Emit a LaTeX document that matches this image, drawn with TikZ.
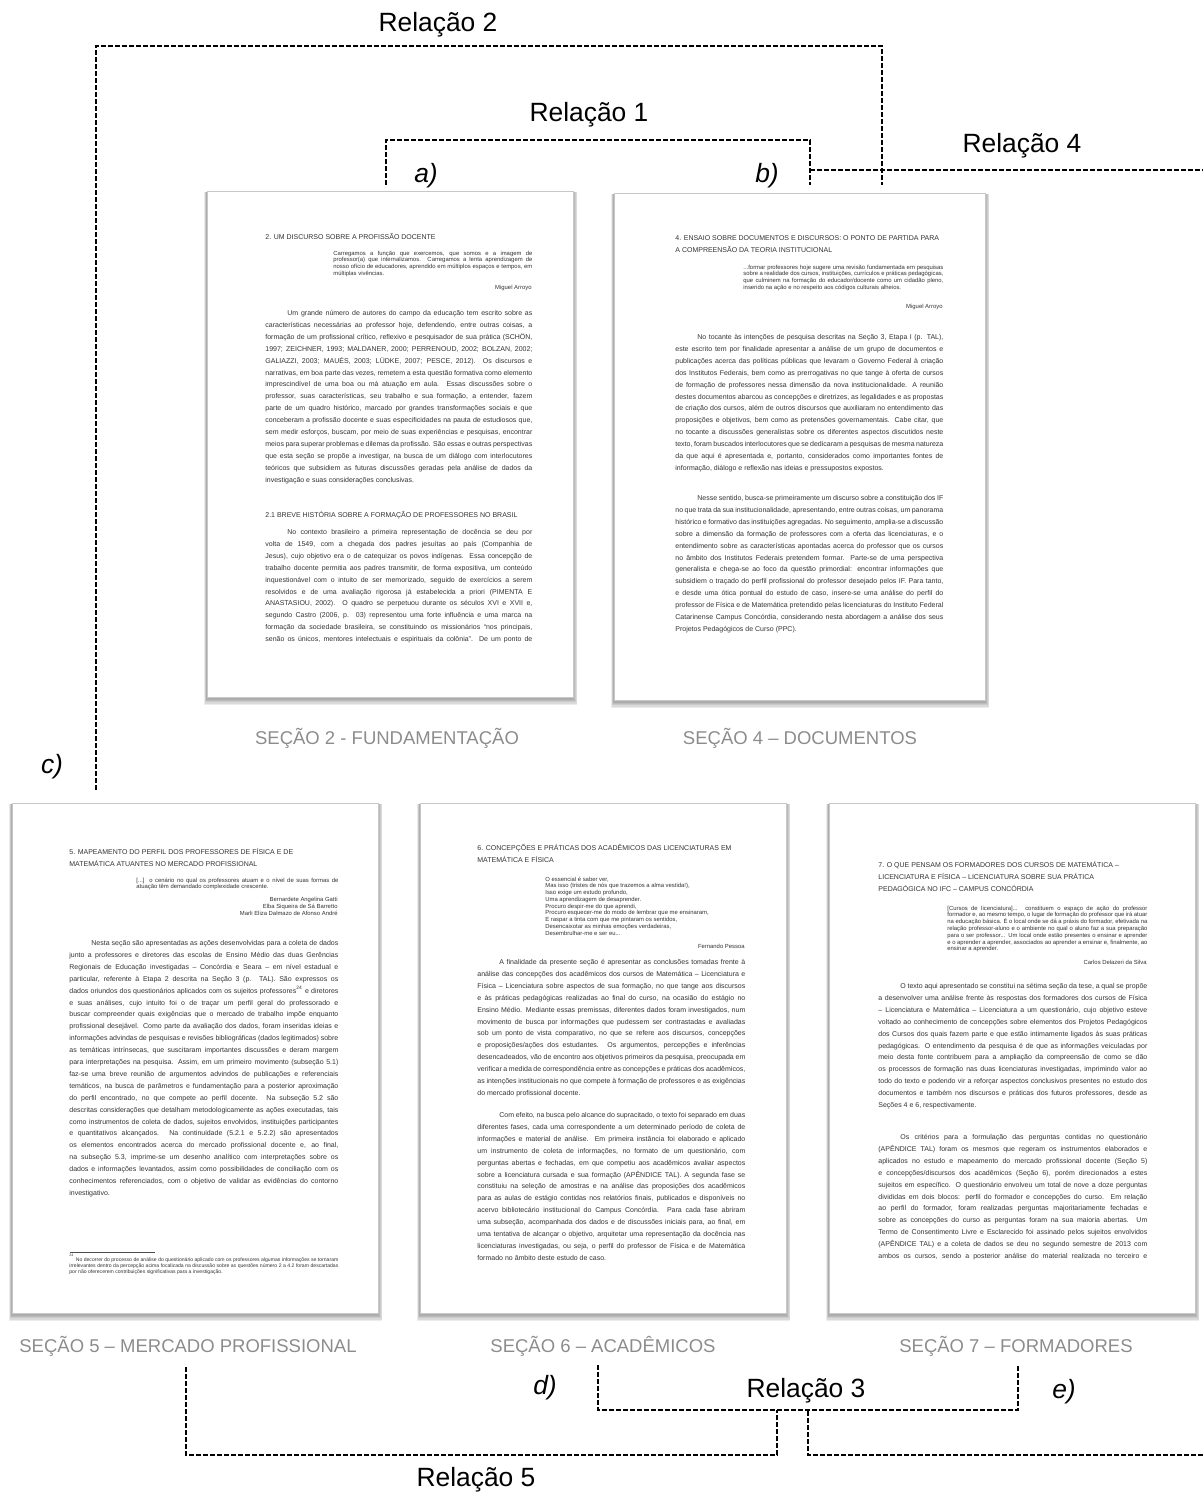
\documentclass[tikz,border=0pt]{standalone}
\usepackage{fontspec}
\setmainfont{Liberation Sans}

% --- text blocks printed on the page thumbnails ---
\newcommand\bodytext[2]{\parbox[t]{#1}{\fontsize{3.5}{5.95}\selectfont
  \hyphenpenalty=10000 \tolerance=9999 \emergencystretch=8pt
  \hspace*{11pt}#2}}
\newcommand\bodycut[2]{\parbox[t]{#1}{\fontsize{3.5}{5.95}\selectfont
  \hyphenpenalty=10000 \tolerance=9999 \emergencystretch=8pt \parfillskip=0pt
  \hspace*{11pt}#2}}
\newcommand\headtext[2]{\parbox[t]{#1}{\raggedright\fontsize{3.5}{5.95}\selectfont #2}}
\newcommand\quotetext[2]{\parbox[t]{#1}{\fontsize{2.95}{3.4}\selectfont
  \hyphenpenalty=10000 \tolerance=9999 \emergencystretch=6pt #2}}
\newcommand\verselines[2]{\parbox[t]{#1}{\raggedright\fontsize{2.95}{3.38}\selectfont #2}}
\newcommand\authorlines[2]{\parbox[t]{#1}{\raggedleft\fontsize{2.95}{3.5}\selectfont #2}}

% soft shadow under a page (pixel coordinates: left, top, right, bottom)
\newcommand\pageshade[4]{%
  \foreach \k in {1,...,6}{%
    \fill[black, opacity=0.075] (#1-0.5*\k, #2+1) rectangle (#3+0.7*\k, #4+1.3*\k);
  }%
}

\tikzset{
  rel/.style={draw=black, line width=0.85pt, dash pattern=on 2.4pt off 1.1pt},
  rellabel/.style={font=\fontsize{13.2}{15}\selectfont, inner sep=0, anchor=base},
  letterlabel/.style={font=\fontsize{13.2}{15}\selectfont\itshape, inner sep=0, anchor=base},
  caption/.style={font=\fontsize{9.25}{11}\selectfont, text=black!45, inner sep=0, anchor=base},
  docpage/.style={draw=black!22, line width=0.4pt, fill=white, inner sep=0, anchor=north west},
  ptext/.style={anchor=base west, inner sep=0, text=black!80},
  pright/.style={anchor=base east, inner sep=0, text=black!80, font=\fontsize{2.95}{3.4}\selectfont},
}

\begin{document}
\begin{tikzpicture}[x=0.5pt, y=-0.5pt]
\useasboundingbox (0,0) rectangle (1203,1493);

% ---------------- pages ----------------
\pageshade{207}{191}{573}{697}
\node[docpage, minimum width=183pt, minimum height=253pt] (pA) at (207,191) {};
\pageshade{614}{193}{985}{700}
\node[docpage, minimum width=185.5pt, minimum height=253.5pt] (pB) at (614,193) {};
\pageshade{12}{803}{378}{1313}
\node[docpage, minimum width=183pt, minimum height=255pt] (p5) at (12,803) {};
\pageshade{420}{803}{786}{1313}
\node[docpage, minimum width=183pt, minimum height=255pt] (p6) at (420,803) {};
\pageshade{829}{803}{1195}{1313}
\node[docpage, minimum width=183pt, minimum height=255pt] (p7) at (829,803) {};

% ---------------- page: Seção 2 ----------------
\node[ptext] (aH) at (265,239.5) {\headtext{134pt}{2. UM DISCURSO SOBRE A PROFISSÃO DOCENTE}};
\node[ptext] (aQ) at (333,255) {\quotetext{99.5pt}{Carregamos a função que exercemos, que somos e a imagem de professor(a) que internalizamos. Carregamos a lenta aprendizagem de nosso ofício de educadores, aprendido em múltiplos espaços e tempos, em múltiplas vivências.}};
\node[pright] (aA) at (532,289) {Miguel Arroyo};
\node[ptext] (aP1) at (265,315.5) {\bodytext{133.5pt}{Um grande número de autores do campo da educação tem escrito sobre as características necessárias ao professor hoje, defendendo, entre outras coisas, a formação de um profissional crítico, reflexivo e pesquisador de sua prática (SCHÖN, 1997; ZEICHNER, 1993; MALDANER, 2000; PERRENOUD, 2002; BOLZAN, 2002; GALIAZZI, 2003; MAUÉS, 2003; LÜDKE, 2007; PESCE, 2012). Os discursos e narrativas, em boa parte das vezes, remetem a esta questão formativa como elemento imprescindível de uma boa ou má atuação em aula. Essas discussões sobre o professor, suas características, seu trabalho e sua formação, a entender, fazem parte de um quadro histórico, marcado por grandes transformações sociais e que conceberam a profissão docente e suas especificidades na pauta de estudiosos que, sem medir esforços, buscam, por meio de suas experiências e pesquisas, encontrar meios para superar problemas e dilemas da profissão. São essas e outras perspectivas que esta seção se propõe a investigar, na busca de um diálogo com interlocutores teóricos que subsidiem as futuras discussões geradas pela análise de dados da investigação e suas considerações conclusivas.}};
\node[ptext] (aH2) at (265,517.5) {\headtext{134pt}{2.1 BREVE HISTÓRIA SOBRE A FORMAÇÃO DE PROFESSORES NO BRASIL}};
\node[ptext] (aP2) at (265,534.5) {\bodycut{133.5pt}{No contexto brasileiro a primeira representação de docência se deu por volta de 1549, com a chegada dos padres jesuítas ao país (Companhia de Jesus), cujo objetivo era o de catequizar os povos indígenas. Essa concepção de trabalho docente permitia aos padres transmitir, de forma expositiva, um conteúdo inquestionável com o intuito de ser memorizado, seguido de exercícios a serem resolvidos e de uma avaliação rigorosa já estabelecida a priori (PIMENTA E ANASTASIOU, 2002). O quadro se perpetuou durante os séculos XVI e XVII e, segundo Castro (2006, p. 03) representou uma forte influência e uma marca na formação da sociedade brasileira, se constituindo os missionários “nos principais, senão os únicos, mentores intelectuais e espirituais da colônia”. De um ponto de}};

% ---------------- page: Seção 4 ----------------
\node[ptext] (bH) at (675,240.5) {\headtext{136pt}{4. ENSAIO SOBRE DOCUMENTOS E DISCURSOS: O PONTO DE PARTIDA PARA\\A COMPREENSÃO DA TEORIA INSTITUCIONAL}};
\node[ptext] (bQ) at (743,269) {\quotetext{100pt}{...formar professores hoje sugere uma revisão fundamentada em pesquisas sobre a realidade dos cursos, instituições, currículos e práticas pedagógicas, que culminem na formação do educador/docente como um cidadão pleno, inserido na ação e no respeito aos códigos culturais alheios.}};
\node[pright] (bA) at (943,308) {Miguel Arroyo};
\node[ptext] (bP1) at (675,339.5) {\bodytext{134pt}{No tocante às intenções de pesquisa descritas na Seção 3, Etapa I (p. TAL), este escrito tem por finalidade apresentar a análise de um grupo de documentos e publicações acerca das políticas públicas que levaram o Governo Federal à criação dos Institutos Federais, bem como as prerrogativas no que tange à oferta de cursos de formação de professores nessa dimensão da nova institucionalidade. A reunião destes documentos abarcou as concepções e diretrizes, as legalidades e as propostas de criação dos cursos, além de outros discursos que auxiliaram no entendimento das proposições e objetivos, bem como as pretensões governamentais. Cabe citar, que no tocante a discussões generalistas sobre os diferentes aspectos discutidos neste texto, foram buscados interlocutores que se dedicaram a pesquisas de mesma natureza da que aqui é apresentada e, portanto, considerados como importantes fontes de informação, diálogo e reflexão nas ideias e pressupostos expostos.}};
\node[ptext] (bP2) at (675,500.5) {\bodytext{134pt}{Nesse sentido, busca-se primeiramente um discurso sobre a constituição dos IF no que trata da sua institucionalidade, apresentando, entre outras coisas, um panorama histórico e formativo das instituições agregadas. No seguimento, amplia-se a discussão sobre a dimensão da formação de professores com a oferta das licenciaturas, e o entendimento sobre as características apontadas acerca do professor que os cursos no âmbito dos Institutos Federais pretendem formar. Parte-se de uma perspectiva generalista e chega-se ao foco da questão primordial: encontrar informações que subsidiem o traçado do perfil profissional do professor desejado pelos IF. Para tanto, e desde uma ótica pontual do estudo de caso, insere-se uma análise do perfil do professor de Física e de Matemática pretendido pelas licenciaturas do Instituto Federal Catarinense Campus Concórdia, considerando nesta abordagem a análise dos seus Projetos Pedagógicos de Curso (PPC).}};

% ---------------- page: Seção 5 ----------------
\node[ptext] (cH) at (69,854.5) {\headtext{136pt}{5. MAPEAMENTO DO PERFIL DOS PROFESSORES DE FÍSICA E DE\\MATEMÁTICA ATUANTES NO MERCADO PROFISSIONAL}};
\node[ptext] (cQ) at (136,882) {\quotetext{101pt}{[...] o cenário no qual os professores atuam e o nível de suas formas de atuação têm demandado complexidade crescente.}};
\node[anchor=base east, inner sep=0, text=black!80] (cA) at (338,901) {\authorlines{101pt}{Bernardete Angelina Gatti\\Elba Siqueira de Sá Barretto\\Marli Eliza Dalmazo de Afonso André}};
\node[ptext] (cP1) at (69,945.5) {\bodytext{134.5pt}{Nesta seção são apresentadas as ações desenvolvidas para a coleta de dados junto a professores e diretores das escolas de Ensino Médio das duas Gerências Regionais de Educação investigadas – Concórdia e Seara – em nível estadual e particular, referente à Etapa 2 descrita na Seção 3 (p. TAL). São expressos os dados oriundos dos questionários aplicados com os sujeitos professores\textsuperscript{24} e diretores e suas análises, cujo intuito foi o de traçar um perfil geral do professorado e buscar compreender quais exigências que o mercado de trabalho impõe enquanto profissional desejável. Como parte da avaliação dos dados, foram inseridas ideias e informações advindas de pesquisas e revisões bibliográficas (dados legitimados) sobre as temáticas intrínsecas, que suscitaram importantes discussões e deram margem para interpretações na pesquisa. Assim, em um primeiro movimento (subseção 5.1) faz-se uma breve reunião de argumentos advindos de publicações e referenciais temáticos, na busca de parâmetros e fundamentação para a posterior aproximação do perfil encontrado, no que compete ao perfil docente. Na subseção 5.2 são descritas considerações que detalham metodologicamente as ações executadas, tais como instrumentos de coleta de dados, sujeitos envolvidos, instituições participantes e quantitativos alcançados. Na continuidade (5.2.1 e 5.2.2) são apresentados os elementos encontrados acerca do mercado profissional docente e, ao final, na subseção 5.3, imprime-se um desenho analítico com interpretações sobre os dados e informações levantados, assim como possibilidades de conciliação com os conhecimentos referenciados, com o objetivo de validar as evidências do contorno investigativo.}};
\draw[black!70, line width=0.3pt] (70,1252) -- (155,1252);
\node[ptext] (cF) at (69,1261) {\parbox[t]{134.5pt}{\fontsize{2.55}{3}\selectfont\hyphenpenalty=10000\tolerance=9999\textsuperscript{24} No decorrer do processo de análise do questionário aplicado com os professores algumas informações se tornaram irrelevantes dentro da percepção acima focalizada na discussão sobre as questões número 2 a 4.2 foram descartadas por não oferecerem contribuições significativas para a investigação.}};

% ---------------- page: Seção 6 ----------------
\node[ptext] (dH) at (477,850.5) {\headtext{136pt}{6. CONCEPÇÕES E PRÁTICAS DOS ACADÊMICOS DAS LICENCIATURAS EM\\MATEMÁTICA E FÍSICA}};
\node[ptext] (dQ) at (545,881) {\verselines{100pt}{O essencial é saber ver,\\Mas isso (tristes de nós que trazemos a alma vestida!),\\Isso exige um estudo profundo,\\Uma aprendizagem de desaprender.\\Procuro despir-me do que aprendi,\\Procuro esquecer-me do modo de lembrar que me ensinaram,\\E raspar a tinta com que me pintaram os sentidos,\\Desencaixotar as minhas emoções verdadeiras,\\Desembrulhar-me e ser eu...}};
\node[pright] (dA) at (745,948) {Fernando Pessoa};
\node[ptext] (dP1) at (477,964.5) {\bodytext{134pt}{A finalidade da presente seção é apresentar as conclusões tomadas frente à análise das concepções dos acadêmicos dos cursos de Matemática – Licenciatura e Física – Licenciatura sobre aspectos de sua formação, no que tange aos discursos e às práticas pedagógicas realizadas ao final do curso, na ocasião do estágio no Ensino Médio. Mediante essas premissas, diferentes dados foram investigados, num movimento de busca por informações que pudessem ser contrastadas e avaliadas sob um ponto de vista comparativo, no que se refere aos discursos, concepções e proposições/ações dos estudantes. Os argumentos, percepções e inferências desencadeados, vão de encontro aos objetivos primeiros da pesquisa, preocupada em verificar a medida de correspondência entre as concepções e práticas dos acadêmicos, as intenções institucionais no que compete à formação de professores e as exigências do mercado profissional docente.}};
\node[ptext] (dP2) at (477,1117.5) {\bodytext{134pt}{Com efeito, na busca pelo alcance do supracitado, o texto foi separado em duas diferentes fases, cada uma correspondente a um determinado período de coleta de informações e material de análise. Em primeira instância foi elaborado e aplicado um instrumento de coleta de informações, no formato de um questionário, com perguntas abertas e fechadas, em que competiu aos acadêmicos avaliar aspectos sobre a licenciatura cursada e sua formação (APÊNDICE TAL). A segunda fase se constituiu na seleção de amostras e na análise das proposições dos acadêmicos para as aulas de estágio contidas nos relatórios finais, publicados e disponíveis no acervo bibliotecário institucional do Campus Concórdia. Para cada fase abriram uma subseção, acompanhada dos dados e de discussões iniciais para, ao final, em uma tentativa de alcançar o objetivo, arquitetar uma representação da docência nas licenciaturas investigadas, ou seja, o perfil do professor de Física e de Matemática formado no âmbito deste estudo de caso.}};

% ---------------- page: Seção 7 ----------------
\node[ptext] (eH) at (878,867.5) {\headtext{136pt}{7. O QUE PENSAM OS FORMADORES DOS CURSOS DE MATEMÁTICA –\\LICENCIATURA E FÍSICA – LICENCIATURA SOBRE SUA PRÁTICA\\PEDAGÓGICA NO IFC – CAMPUS CONCÓRDIA}};
\node[ptext] (eQ) at (947,910) {\quotetext{100pt}{[Cursos de licenciatura]... constituem o espaço de ação do professor formador e, ao mesmo tempo, o lugar de formação do professor que irá atuar na educação básica. É o local onde se dá a práxis do formador, efetivada na relação professor-aluno e o ambiente no qual o aluno faz a sua preparação para o ser professor... Um local onde estão presentes o ensinar e aprender e o aprender a aprender, associados ao aprender a ensinar e, finalmente, ao ensinar a aprender.}};
\node[pright] (eA) at (1147,964) {Carlos Delazeri da Silva};
\node[ptext] (eP1) at (878,988.5) {\bodytext{134.5pt}{O texto aqui apresentado se constitui na sétima seção da tese, a qual se propõe a desenvolver uma análise frente às respostas dos formadores dos cursos de Física – Licenciatura e Matemática – Licenciatura a um questionário, cujo objetivo esteve voltado ao conhecimento de concepções sobre elementos dos Projetos Pedagógicos dos Cursos dos quais fazem parte e que estão intimamente ligados às suas práticas pedagógicas. O entendimento da pesquisa é de que as informações veiculadas por meio desta fonte contribuem para a ampliação da compreensão de como se dão os processos de formação nas duas licenciaturas investigadas, imprimindo valor ao todo do texto e podendo vir a reforçar aspectos conclusivos presentes no estudo dos documentos e também nos discursos e práticas dos futuros professores, desde as Seções 4 e 6, respectivamente.}};
\node[ptext] (eP2) at (878,1139.5) {\bodycut{134.5pt}{Os critérios para a formulação das perguntas contidas no questionário (APÊNDICE TAL) foram os mesmos que regeram os instrumentos elaborados e aplicados no estudo e mapeamento do mercado profissional docente (Seção 5) e concepções/discursos dos acadêmicos (Seção 6), porém direcionados a estes sujeitos em específico. O questionário envolveu um total de nove a doze perguntas divididas em dois blocos: perfil do formador e concepções do curso. Em relação ao perfil do formador, foram realizadas perguntas majoritariamente fechadas e sobre as concepções do curso as perguntas foram na sua maioria abertas. Um Termo de Consentimento Livre e Esclarecido foi assinado pelos sujeitos envolvidos (APÊNDICE TAL) e a coleta de dados se deu no segundo semestre de 2013 com ambos os cursos, sendo a posterior análise do material realizada no terceiro e}};

% ---------------- captions ----------------
\node[caption] (capA) at (387,744) {SEÇÃO 2 - FUNDAMENTAÇÃO};
\node[caption] (capB) at (800,744) {SEÇÃO 4 – DOCUMENTOS};
\node[caption] (cap5) at (188,1352) {SEÇÃO 5 – MERCADO PROFISSIONAL};
\node[caption] (cap6) at (603,1352) {SEÇÃO 6 – ACADÊMICOS};
\node[caption] (cap7) at (1016,1352) {SEÇÃO 7 – FORMADORES};

% ---------------- connector end points ----------------
\coordinate (r1L) at (386,185);
\coordinate (r1R) at (810,185);
\coordinate (r1M) at (598,140);
\coordinate (r2L) at (96,790);
\coordinate (r2R) at (882,185);
\coordinate (r2M) at (489,46);
\coordinate (r4S) at (810,170);
\coordinate (r4E) at (1203,170);
\coordinate (r4B) at (1203,1455);
\coordinate (r4J) at (808,1410);
\coordinate (r3L) at (598,1365);
\coordinate (r3R) at (1018,1365);
\coordinate (r3M) at (808,1410);
\coordinate (r5L) at (186,1367);
\coordinate (r5M) at (480,1455);
\coordinate (r5J) at (777,1410);

% ---------------- dashed relations ----------------
\draw[rel] (r1L) |- (r1M) -| (r1R);
\draw[rel] (r2L) |- (r2M) -| (r2R);
\draw[rel] (r4S) -- (r4E);
\draw[rel] (r4B) -| (r4J);
\draw[rel] (r3L) |- (r3M) -| (r3R);
\draw[rel] (r5L) |- (r5M) -| (r5J);

% ---------------- labels ----------------
\node[rellabel] (l1) at (589,122) {Relação 1};
\node[rellabel] (l2) at (438,32) {Relação 2};
\node[rellabel] (l3) at (806,1397) {Relação 3};
\node[rellabel] (l4) at (1022,153) {Relação 4};
\node[rellabel] (l5) at (476,1486) {Relação 5};

\node[letterlabel] (la) at (426,183) {a)};
\node[letterlabel] (lb) at (767,183) {b)};
\node[letterlabel] (lc) at (52,773) {c)};
\node[letterlabel] (ld) at (545,1394) {d)};
\node[letterlabel] (le) at (1064,1398) {e)};
\end{tikzpicture}
\end{document}
